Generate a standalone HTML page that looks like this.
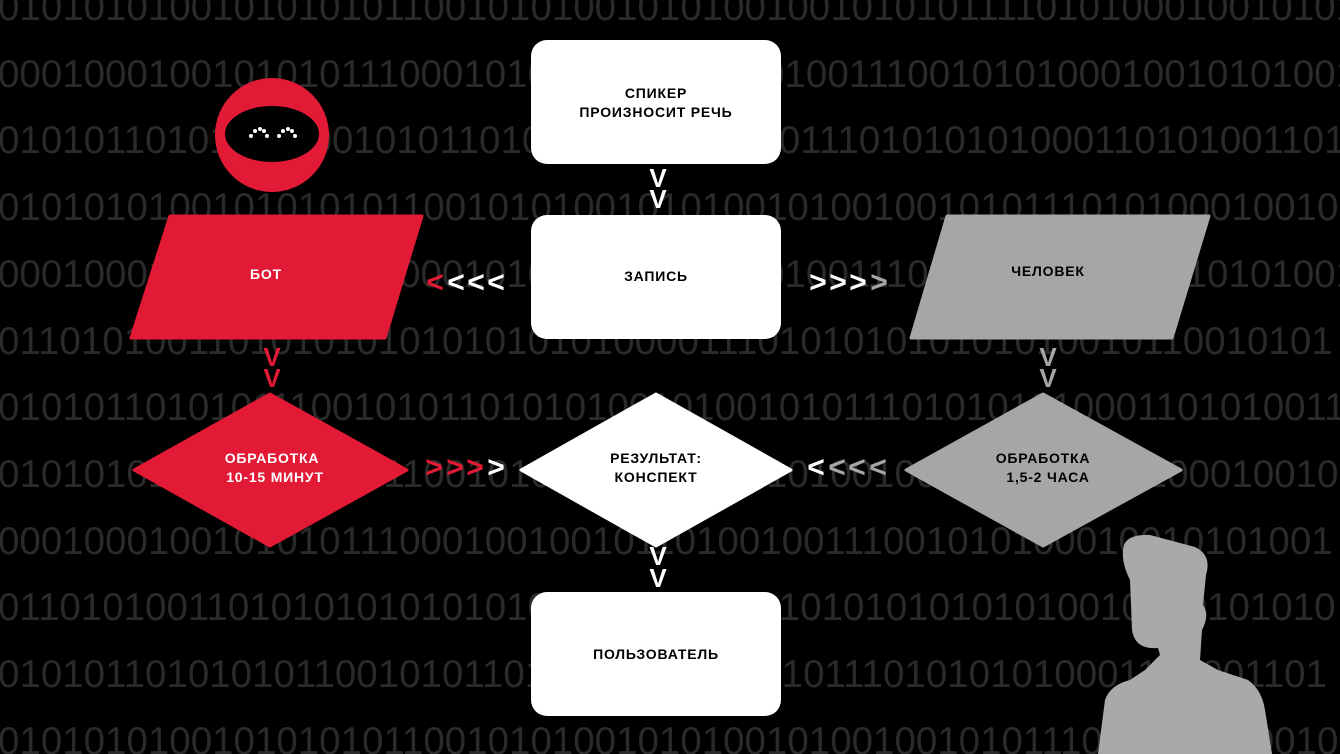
<!DOCTYPE html>
<html><head><meta charset="utf-8"><style>
html,body{margin:0;padding:0;background:#000;width:1340px;height:754px;overflow:hidden;}
body{position:relative;}
.bg{position:absolute;left:-2px;top:-25px;font-family:"Liberation Sans",sans-serif;font-size:38.5px;line-height:66.7px;color:#2a2a2a;white-space:pre;height:800px;overflow:hidden;width:1360px;}
svg{position:absolute;left:0;top:0;}
svg text{font-family:"Liberation Sans",sans-serif;font-weight:bold;}
</style></head><body>
<div class="bg">010101010010101010110010101001010100100101010111101010001001010101
000100010010101011100010100100101010010011100101010001001010100101
010101101010111001010110101010010100101110101010100011010100110101
010101010010101010110010101001010100101001001010111010100010010101
000100010010101011100010100100101010010011100101010001001010100101
011010100110101010101010101010000111010101010101010010110010101
010101101010111001010110101010010100101011101010101000110101001101
010101010010101010110010101001010100101001001010111010100010010101
000100010010101011100010010010110100100111001010100010010101001
011010100110101010101010101010000111010101010101010010100101010
010101101010101100101011010100101001010111010101010001101001101
010101010010101010110010101001010100101001001010111010100010010101</div>
<svg width="1340" height="754" viewBox="0 0 1340 754">
<circle cx="272" cy="135" r="57" fill="#e31a36"/>
<ellipse cx="272" cy="134" rx="47" ry="28" fill="#000"/>
<g fill="#fff">
<circle cx="251" cy="136" r="2"/><circle cx="255" cy="131" r="2"/><circle cx="260" cy="129" r="2"/><circle cx="264" cy="131" r="2"/><circle cx="267" cy="136" r="2"/>
<circle cx="279" cy="136" r="2"/><circle cx="283" cy="131" r="2"/><circle cx="288" cy="129" r="2"/><circle cx="292" cy="131" r="2"/><circle cx="295" cy="136" r="2"/>
</g>
<rect x="531" y="40" width="250" height="124" rx="16" fill="#fff"/>
<rect x="531" y="215" width="250" height="124" rx="16" fill="#fff"/>
<rect x="531" y="592" width="250" height="124" rx="16" fill="#fff"/>
<polygon points="170,216 422,216 385,338 131,338" fill="#e31a36" stroke="#e31a36" stroke-width="3" stroke-linejoin="round"/>
<polygon points="947,216 1209,216 1172,338 911,338" fill="#a6a6a6" stroke="#a6a6a6" stroke-width="3" stroke-linejoin="round"/>
<polygon points="270,394 407,470 270,546 134,470" fill="#e31a36" stroke="#e31a36" stroke-width="3" stroke-linejoin="round"/>
<polygon points="656,394 791,470 656,546 521,470" fill="#fff" stroke="#fff" stroke-width="3" stroke-linejoin="round"/>
<polygon points="1043,394 1181,470 1043,546 906,470" fill="#a6a6a6" stroke="#a6a6a6" stroke-width="3" stroke-linejoin="round"/>
<path d="M1124,545 Q1128,534 1150,535 L1195,547 Q1212,555 1206,575 L1203,605 Q1210,615 1202,630 L1200,660 L1218,670 L1248,680 Q1262,690 1265,710 L1272,754 L1098,754 L1105,700 Q1110,685 1130,680 L1145,670 L1160,655 L1158,648 Q1135,650 1132,630 L1130,580 Q1120,560 1124,545 Z" fill="#a9a9a9"/>
<g font-size="14" text-anchor="middle" fill="#000" letter-spacing="0.8">
<text x="656" y="98">СПИКЕР</text>
<text x="656" y="117">ПРОИЗНОСИТ РЕЧЬ</text>
<text x="656" y="281">ЗАПИСЬ</text>
<text x="656" y="659">ПОЛЬЗОВАТЕЛЬ</text>
<text x="656" y="463">РЕЗУЛЬТАТ:</text>
<text x="656" y="482">КОНСПЕКТ</text>
<text x="266" y="279" fill="#fff">БОТ</text>
<text x="1048" y="276">ЧЕЛОВЕК</text>
<text x="272" y="463" fill="#fff">ОБРАБОТКА</text>
<text x="275" y="482" fill="#fff">10-15 МИНУТ</text>
<text x="1043" y="463">ОБРАБОТКА</text>
<text x="1048" y="482">1,5-2 ЧАСА</text>
</g>
<g font-size="26" text-anchor="middle">
<text x="658" y="187" fill="#fff">V</text><text x="658" y="208" fill="#fff">V</text>
<text x="658" y="565" fill="#fff">V</text><text x="658" y="587" fill="#fff">V</text>
<text x="272" y="366" fill="#e31a36">V</text><text x="272" y="387" fill="#e31a36">V</text>
<text x="1048" y="366" fill="#a6a6a6">V</text><text x="1048" y="387" fill="#a6a6a6">V</text>
</g>
<g font-size="30" text-anchor="middle">
<text x="435" y="292" fill="#e31a36">&lt;</text><text x="456" y="292" fill="#fff">&lt;</text><text x="476" y="292" fill="#fff">&lt;</text><text x="496" y="292" fill="#fff">&lt;</text>
<text x="818" y="292" fill="#fff">&gt;</text><text x="838" y="292" fill="#fff">&gt;</text><text x="858" y="292" fill="#fff">&gt;</text><text x="879" y="292" fill="#a6a6a6">&gt;</text>
<text x="434" y="477" fill="#e31a36">&gt;</text><text x="455" y="477" fill="#e31a36">&gt;</text><text x="475" y="477" fill="#e31a36">&gt;</text><text x="496" y="477" fill="#fff">&gt;</text>
<text x="816" y="477" fill="#fff">&lt;</text><text x="837" y="477" fill="#a6a6a6">&lt;</text><text x="857" y="477" fill="#a6a6a6">&lt;</text><text x="878" y="477" fill="#a6a6a6">&lt;</text>
</g>
</svg>
</body></html>
